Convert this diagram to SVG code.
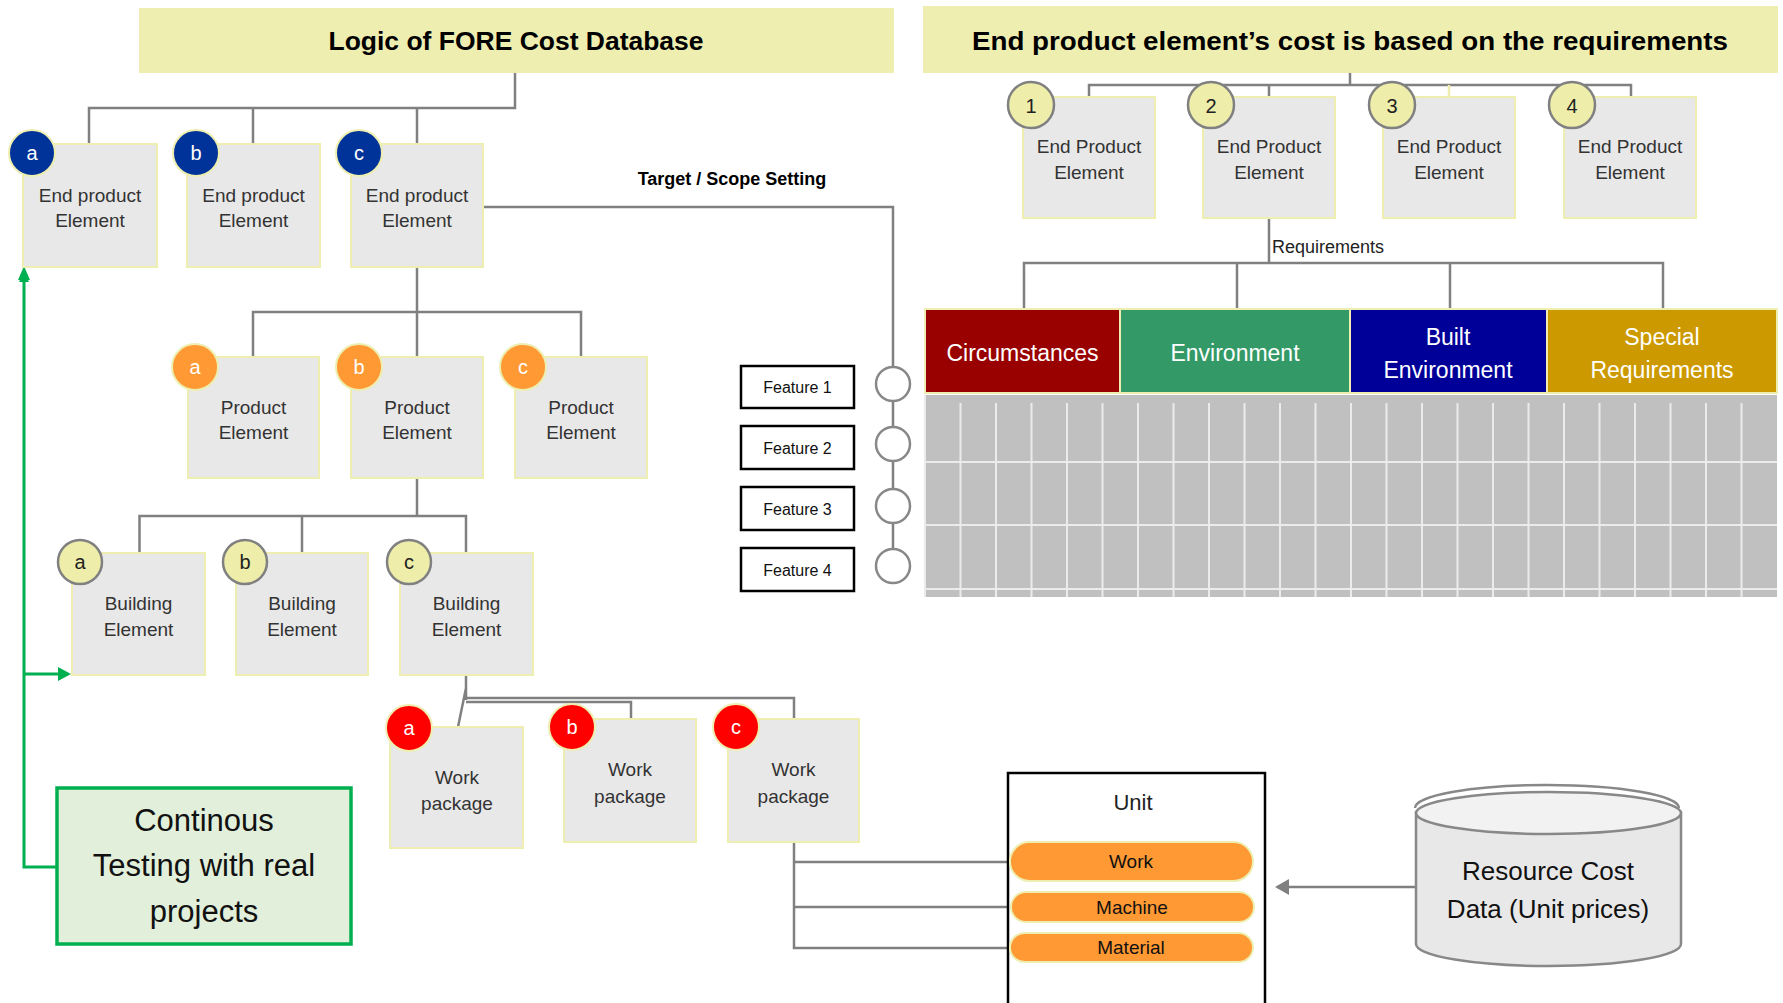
<svg xmlns="http://www.w3.org/2000/svg" width="1783" height="1003" viewBox="0 0 1783 1003">
<defs>
<style>
text{font-family:"Liberation Sans",Arial,sans-serif}
.title{fill:#EEEEB0}
.ttl{font-size:26px;font-weight:bold;fill:#000;text-anchor:middle}
.box{fill:#E8E8E8;stroke:#EEEEB0;stroke-width:2}
.lbl{font-size:19px;fill:#333;text-anchor:middle}
.conn{stroke:#808080;stroke-width:2.5;fill:none}
.bb{fill:#003399;stroke:#EEEEB0;stroke-width:2}
.bo{fill:#FF9933;stroke:#EEEEB0;stroke-width:2}
.br{fill:#FF0000;stroke:#EEEEB0;stroke-width:2}
.by{fill:#EEEEAA;stroke:#808080;stroke-width:2.5}
.bt{font-size:20px;fill:#fff;text-anchor:middle}
.bk{font-size:20px;fill:#222;text-anchor:middle}
.feat{fill:#fff;stroke:#000;stroke-width:2.5}
.ft{font-size:16px;fill:#111;text-anchor:middle}
.fc{fill:#fff;stroke:#888;stroke-width:2.5}
.hd{font-size:23px;fill:#fff;text-anchor:middle}
.grid{stroke:#EBEBEB;stroke-width:2}
.green{stroke:#00B050;stroke-width:3;fill:none}
.pill{fill:#FF9933;stroke:#EEEEB0;stroke-width:2}
.pt{font-size:19px;fill:#111;text-anchor:middle}
</style>
<marker id="ag" markerWidth="10" markerHeight="10" refX="8" refY="5" orient="auto" markerUnits="userSpaceOnUse" viewBox="0 0 10 10">
<path d="M0,0 L10,5 L0,10 z" fill="#00B050"/>
</marker>
<marker id="ah" markerWidth="14" markerHeight="16" refX="12" refY="8" orient="auto" markerUnits="userSpaceOnUse" viewBox="0 0 14 16">
<path d="M0,0 L14,8 L0,16 z" fill="#808080"/>
</marker>
</defs>
<rect width="1783" height="1003" fill="#fff"/>

<!-- connectors -->
<g id="connectors">
<path class="conn" d="M515,72 V108 H89 V144 M253,108 V144 M417,108 V144"/>
<path class="conn" d="M417,267 V312 M253,357 V312 H581 V357 M417,312 V357"/>
<path class="conn" d="M417,478 V516 M139.5,553 V516 H466 V553 M302,516 V553"/>
<path class="conn" d="M466,675 V700 M466,698 H794 V720 M466,702 H631 V720 M466,688 L458,727"/>
<path class="conn" d="M794,842 V948 H1007 M794,862 H1007 M794,907 H1007"/>
<path class="conn" d="M483,207 H893 V566"/>
<path class="conn" d="M1350,73 V85 M1089,97 V85 H1631 V97 M1269,85 V97"/>
<path d="M1449,85 V97" stroke="#EEEEB0" stroke-width="2.5"/>
<path class="conn" d="M1269,218 V263 M1024,309 V263 H1663 V309 M1237,263 V309 M1450,263 V309"/>
<line class="conn" x1="1416" y1="887" x2="1277" y2="887" marker-end="url(#ah)"/>
<path class="green" d="M56,867 H24 V274" marker-end="url(#ag)"/>
<path d="M18,280 L24,266 L30,280 z" fill="#00B050"/>
<path class="green" d="M24,674 H60"/>
<path d="M58,667 L71,674 L58,681 z" fill="#00B050"/>
</g>

<!-- titles -->
<g id="title-left">
<rect class="title" x="139" y="8" width="755" height="65"/>
<text class="ttl" x="516" y="50" textLength="375" lengthAdjust="spacingAndGlyphs">Logic of FORE Cost Database</text>
</g>
<g id="title-right">
<rect class="title" x="923" y="6" width="855" height="67"/>
<text class="ttl" x="1350" y="50" textLength="756" lengthAdjust="spacingAndGlyphs">End product element’s cost is based on the requirements</text>
</g>

<text x="732" y="185" font-size="18" font-weight="bold" text-anchor="middle" fill="#000">Target / Scope Setting</text>

<!-- End product elements -->
<g id="ep-a"><rect class="box" x="23" y="144" width="134" height="123"/><text class="lbl" x="90" y="201.5">End product</text><text class="lbl" x="90" y="226.5">Element</text><circle class="bb" cx="32" cy="153" r="23"/><text class="bt" x="32" y="160">a</text></g>
<g id="ep-b"><rect class="box" x="187" y="144" width="133" height="123"/><text class="lbl" x="253.5" y="201.5">End product</text><text class="lbl" x="253.5" y="226.5">Element</text><circle class="bb" cx="196" cy="153" r="23"/><text class="bt" x="196" y="160">b</text></g>
<g id="ep-c"><rect class="box" x="351" y="144" width="132" height="123"/><text class="lbl" x="417" y="201.5">End product</text><text class="lbl" x="417" y="226.5">Element</text><circle class="bb" cx="359" cy="153" r="23"/><text class="bt" x="359" y="160">c</text></g>

<!-- Product elements -->
<g id="pe-a"><rect class="box" x="188" y="357" width="131" height="121"/><text class="lbl" x="253.5" y="413.5">Product</text><text class="lbl" x="253.5" y="438.5">Element</text><circle class="bo" cx="195" cy="367" r="23"/><text class="bt" x="195" y="374">a</text></g>
<g id="pe-b"><rect class="box" x="351" y="357" width="132" height="121"/><text class="lbl" x="417" y="413.5">Product</text><text class="lbl" x="417" y="438.5">Element</text><circle class="bo" cx="359" cy="367" r="23"/><text class="bt" x="359" y="374">b</text></g>
<g id="pe-c"><rect class="box" x="515" y="357" width="132" height="121"/><text class="lbl" x="581" y="413.5">Product</text><text class="lbl" x="581" y="438.5">Element</text><circle class="bo" cx="523" cy="367" r="23"/><text class="bt" x="523" y="374">c</text></g>

<!-- Building elements -->
<g id="be-a"><rect class="box" x="72" y="553" width="133" height="122"/><text class="lbl" x="138.5" y="609.5">Building</text><text class="lbl" x="138.5" y="635.5">Element</text><circle class="by" cx="80" cy="562" r="22"/><text class="bk" x="80" y="569">a</text></g>
<g id="be-b"><rect class="box" x="236" y="553" width="132" height="122"/><text class="lbl" x="302" y="609.5">Building</text><text class="lbl" x="302" y="635.5">Element</text><circle class="by" cx="245" cy="562" r="22"/><text class="bk" x="245" y="569">b</text></g>
<g id="be-c"><rect class="box" x="400" y="553" width="133" height="122"/><text class="lbl" x="466.5" y="609.5">Building</text><text class="lbl" x="466.5" y="635.5">Element</text><circle class="by" cx="409" cy="562" r="22"/><text class="bk" x="409" y="569">c</text></g>

<!-- Work packages -->
<g id="wp-a"><rect class="box" x="390" y="727" width="133" height="121"/><text class="lbl" x="457" y="783.5">Work</text><text class="lbl" x="457" y="809.5">package</text><circle class="br" cx="409" cy="728" r="23"/><text class="bt" x="409" y="735">a</text></g>
<g id="wp-b"><rect class="box" x="564" y="719" width="132" height="123"/><text class="lbl" x="630" y="775.5">Work</text><text class="lbl" x="630" y="802.5">package</text><circle class="br" cx="572" cy="727" r="23"/><text class="bt" x="572" y="734">b</text></g>
<g id="wp-c"><rect class="box" x="728" y="719" width="131" height="123"/><text class="lbl" x="793.5" y="775.5">Work</text><text class="lbl" x="793.5" y="802.5">package</text><circle class="br" cx="736" cy="727" r="23"/><text class="bt" x="736" y="734">c</text></g>

<!-- Testing -->
<g id="testing">
<rect x="57" y="788" width="294" height="156" fill="#E2EFDA" stroke="#00B050" stroke-width="3.5"/>
<text x="204" y="831" font-size="31" fill="#111" text-anchor="middle">Continous</text>
<text x="204" y="876" font-size="31" fill="#111" text-anchor="middle">Testing with real</text>
<text x="204" y="922" font-size="31" fill="#111" text-anchor="middle">projects</text>
</g>

<!-- Features -->
<g id="feature-1"><rect class="feat" x="741" y="366" width="113" height="42"/><text class="ft" x="797.5" y="393">Feature 1</text><circle class="fc" cx="893" cy="384" r="17"/></g>
<g id="feature-2"><rect class="feat" x="741" y="426" width="113" height="43"/><text class="ft" x="797.5" y="453.5">Feature 2</text><circle class="fc" cx="893" cy="444" r="17"/></g>
<g id="feature-3"><rect class="feat" x="741" y="487" width="113" height="43"/><text class="ft" x="797.5" y="514.5">Feature 3</text><circle class="fc" cx="893" cy="506" r="17"/></g>
<g id="feature-4"><rect class="feat" x="741" y="548" width="113" height="43"/><text class="ft" x="797.5" y="575.5">Feature 4</text><circle class="fc" cx="893" cy="566" r="17"/></g>

<!-- Right End Product elements -->
<g id="rep-1"><rect class="box" x="1023" y="97" width="132" height="121"/><text class="lbl" x="1089" y="152.5">End Product</text><text class="lbl" x="1089" y="178.5">Element</text><circle class="by" cx="1031" cy="105" r="23"/><text class="bk" x="1031" y="113" font-size="22">1</text></g>
<g id="rep-2"><rect class="box" x="1203" y="97" width="132" height="121"/><text class="lbl" x="1269" y="152.5">End Product</text><text class="lbl" x="1269" y="178.5">Element</text><circle class="by" cx="1211" cy="105" r="23"/><text class="bk" x="1211" y="113" font-size="22">2</text></g>
<g id="rep-3"><rect class="box" x="1383" y="97" width="132" height="121"/><text class="lbl" x="1449" y="152.5">End Product</text><text class="lbl" x="1449" y="178.5">Element</text><circle class="by" cx="1392" cy="105" r="23"/><text class="bk" x="1392" y="113" font-size="22">3</text></g>
<g id="rep-4"><rect class="box" x="1564" y="97" width="132" height="121"/><text class="lbl" x="1630" y="152.5">End Product</text><text class="lbl" x="1630" y="178.5">Element</text><circle class="by" cx="1572" cy="105" r="23"/><text class="bk" x="1572" y="113" font-size="22">4</text></g>

<text x="1272" y="253" font-size="18" fill="#222">Requirements</text>

<!-- Requirement headers -->
<g id="req-circumstances"><rect x="925" y="309" width="195" height="84" fill="#990000"/><text class="hd" x="1022.5" y="361">Circumstances</text></g>
<g id="req-environment"><rect x="1120" y="309" width="230" height="84" fill="#339966"/><text class="hd" x="1235" y="361">Environment</text></g>
<g id="req-built"><rect x="1350" y="309" width="197" height="84" fill="#000099"/><text class="hd" x="1448" y="345">Built</text><text class="hd" x="1448" y="378">Environment</text></g>
<g id="req-special"><rect x="1547" y="309" width="230" height="84" fill="#CC9900"/><text class="hd" x="1662" y="345">Special</text><text class="hd" x="1662" y="378">Requirements</text></g>
<rect x="925" y="309" width="852" height="84" fill="none" stroke="#EEEEB0" stroke-width="2"/>
<line x1="1120" y1="309" x2="1120" y2="393" stroke="#EEEEB0" stroke-width="2"/>
<line x1="1350" y1="309" x2="1350" y2="393" stroke="#EEEEB0" stroke-width="2"/>
<line x1="1547" y1="309" x2="1547" y2="393" stroke="#EEEEB0" stroke-width="2"/>

<!-- Grid -->
<g id="grid">
<rect x="925" y="395" width="852" height="202" fill="#C0C0C0"/>
<path class="grid" d="M960.5,403V597 M996,403V597 M1031.5,403V597 M1067,403V597 M1102.5,403V597 M1138,403V597 M1173.5,403V597 M1209,403V597 M1244.5,403V597 M1280,403V597 M1315.5,403V597 M1351,403V597 M1386.5,403V597 M1422,403V597 M1457.5,403V597 M1493,403V597 M1528.5,403V597 M1564,403V597 M1599.5,403V597 M1635,403V597 M1670.5,403V597 M1706,403V597 M1741.5,403V597"/>
<path class="grid" d="M925,462H1777 M925,525H1777 M925,589H1777 M925,395V597"/>
</g>

<!-- Unit -->
<g id="unit">
<rect x="1008" y="773" width="257" height="260" fill="#fff" stroke="#000" stroke-width="2.5"/>
<text x="1133" y="810" font-size="22" fill="#222" text-anchor="middle">Unit</text>
<rect class="pill" x="1010" y="842" width="243" height="39" rx="19.5"/>
<text class="pt" x="1131" y="868">Work</text>
<rect class="pill" x="1011" y="892" width="243" height="30" rx="15"/>
<text class="pt" x="1132" y="914">Machine</text>
<rect class="pill" x="1010" y="933" width="243" height="29" rx="14.5"/>
<text class="pt" x="1131" y="954">Material</text>
</g>

<!-- Cylinder -->
<g id="resource-db">
<path d="M1416,813 V944 A132.5,22 0 0 0 1681,944 V813 Z" fill="#E8E8E8" stroke="#888" stroke-width="2.5"/>
<path d="M1415,808 A132,23 0 0 1 1679,808" fill="none" stroke="#888" stroke-width="2.5"/>
<ellipse cx="1548.5" cy="813" rx="132.5" ry="21" fill="#F2F2F2" stroke="#888" stroke-width="2.5"/>
<text x="1548" y="880" font-size="26" fill="#111" text-anchor="middle">Resource Cost</text>
<text x="1548" y="918" font-size="26" fill="#111" text-anchor="middle">Data (Unit prices)</text>
</g>
</svg>
